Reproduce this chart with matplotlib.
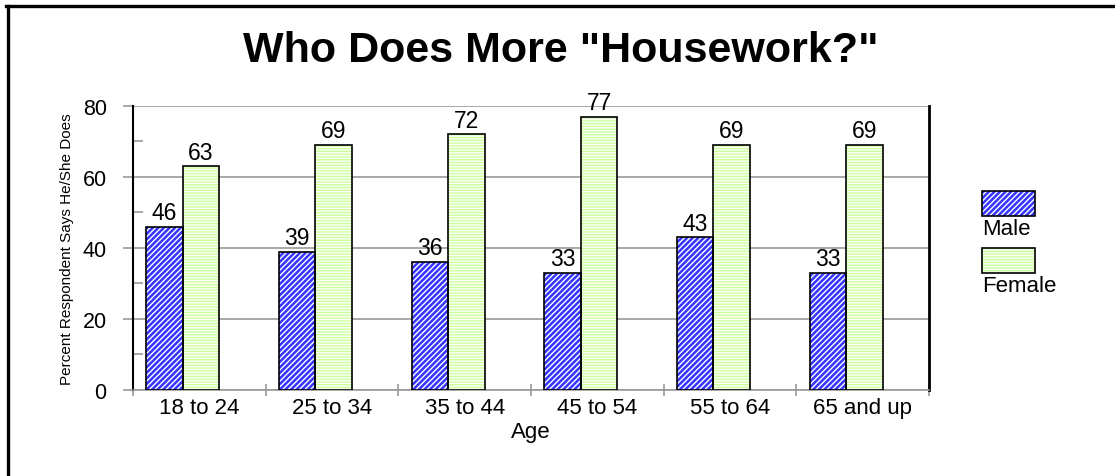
import numpy as np
import matplotlib
matplotlib.use("Agg")
import matplotlib.pyplot as plt
from matplotlib.patches import Rectangle
from matplotlib.lines import Line2D

plt.rcParams['font.family'] = ['Liberation Sans', 'DejaVu Sans']
plt.rcParams['hatch.linewidth'] = 1.0

# data
ages = ['18 to 24', '25 to 34', '35 to 44', '45 to 54', '55 to 64', '65 and up']
male = [46, 39, 36, 33, 43, 33]
female = [63, 69, 72, 77, 69, 69]

male_col = '#3535ff'
female_hatch = '#ccff99'
grid_col = '#999999'

fig = plt.figure(figsize=(11.15, 4.77), dpi=100)
ax = fig.add_axes([0.1193, 0.1803, 0.7139, 0.5954])

x = np.arange(len(ages))
w = 0.275
xm = x + 0.1 + w / 2
xf = x + 0.1 + 1.5 * w

# male: blue with white diagonal hatch
ax.bar(xm, male, w, color=male_col, edgecolor='white', hatch='//////', linewidth=0, zorder=3)
ax.bar(xm, male, w, facecolor='none', edgecolor='black', linewidth=1.2, zorder=4)
# female: white with light green horizontal lines
ax.bar(xf, female, w, color='white', edgecolor=female_hatch, hatch='------', linewidth=0, zorder=3)
ax.bar(xf, female, w, facecolor='none', edgecolor='black', linewidth=1.2, zorder=4)

for xi, v in zip(xm, male):
    ax.text(xi, v + 2.2, str(v), ha='center', va='baseline', fontsize=16.5, zorder=5)
for xi, v in zip(xf, female):
    ax.text(xi, v + 2.2, str(v), ha='center', va='baseline', fontsize=16.5, zorder=5)

ax.set_xlim(0, len(ages))
ax.set_ylim(0, 80)
ax.set_yticks([0, 20, 40, 60, 80])
ax.set_yticks([10, 30, 50, 70], minor=True)
ax.yaxis.grid(True, which='major', color=grid_col, linewidth=1.2, zorder=0)
ax.set_axisbelow(True)

ax.set_xticks(np.arange(len(ages) + 1))
ax.set_xticklabels([])
ax.set_xticks(x + 0.5, minor=True)
ax.set_xticklabels(ages, minor=True, fontsize=16)
ax.tick_params(axis='x', which='minor', length=0, pad=5)
ax.tick_params(axis='x', which='major', direction='inout', length=8, color=grid_col, width=1.2)
ax.tick_params(axis='y', which='major', direction='out', length=7, color=grid_col, width=1.2, labelsize=15.5, pad=12)
ax.tick_params(axis='y', which='minor', direction='in', length=7, color=grid_col, width=1.2)

ax.spines['top'].set_visible(False)
ax.spines['bottom'].set_color(grid_col)
ax.spines['bottom'].set_linewidth(1.2)
ax.spines['left'].set_color('black')
ax.spines['left'].set_linewidth(1.5)
ax.spines['right'].set_color('black')
ax.spines['right'].set_linewidth(2)

ax.set_xlabel('Age', fontsize=16, labelpad=2)
ax.set_ylabel('Percent Respondent Says He/She Does', fontsize=11, labelpad=6)

fig.text(0.503, 1 - 62 / 477, 'Who Does More "Housework?"', ha='center', va='baseline',
         fontsize=31, fontweight='bold')

# legend, patch above label
W, H = 1115.0, 477.0
leg = [('Male', male_col, 'white', '//////', 192, 230),
       ('Female', 'white', female_hatch, '------', 249, 286)]
for name, fc, hc, hatch, top, ty in leg:
    r = Rectangle((982 / W, 1 - (top + 25) / H), 53 / W, 25 / H, transform=fig.transFigure,
                  facecolor=fc, edgecolor=hc, hatch=hatch, linewidth=0)
    fig.add_artist(r)
    fig.add_artist(Rectangle((982 / W, 1 - (top + 25) / H), 53 / W, 25 / H, transform=fig.transFigure,
                             facecolor='none', edgecolor='black', linewidth=1.2))
    fig.text(982 / W, 1 - ty / H, name, ha='left', va='center', fontsize=16)

# frame lines on left and top
fig.add_artist(Line2D([7.5 / W, 7.5 / W], [0, 1 - 6.5 / H], transform=fig.transFigure, color='black', linewidth=2.4))
fig.add_artist(Line2D([6 / W, 1], [1 - 6.5 / H, 1 - 6.5 / H], transform=fig.transFigure, color='black', linewidth=2.4))

fig.savefig('out.png', dpi=100)
